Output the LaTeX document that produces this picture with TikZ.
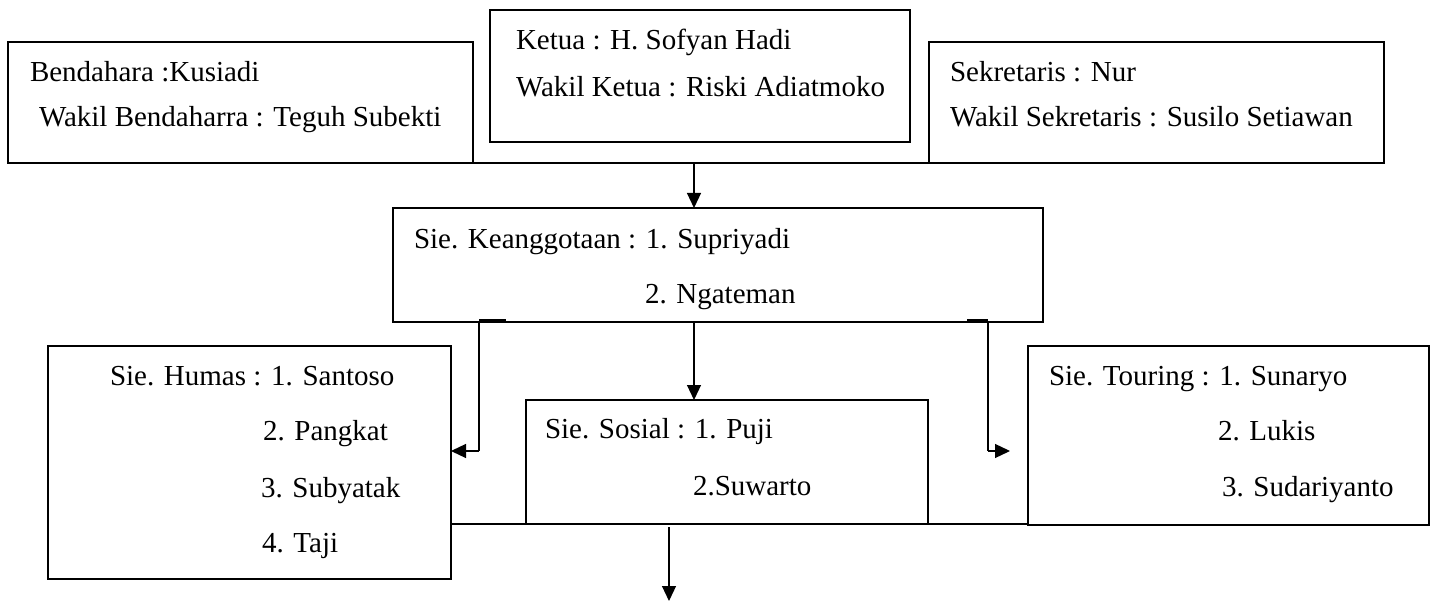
\documentclass[tikz,border=0pt]{standalone}
\usepackage{fontspec}
\setmainfont{Liberation Serif}
\usetikzlibrary{arrows.meta}
\begin{document}
\begin{tikzpicture}[x=1pt,y=-1pt,
  box/.style={draw, line width=2pt, inner sep=0pt, outer sep=0pt},
  lbl/.style={anchor=base west, inner sep=0pt, outer sep=0pt, font=\fontsize{29}{34}\selectfont},
  conn/.style={line width=1.2pt},
  thickline/.style={line width=2pt},
  arr/.style={line width=1.2pt, -{Triangle[length=15pt,width=14pt]}}]
\useasboundingbox (0,0) rectangle (1431,601);
% boxes
\node[box, minimum width=465pt, minimum height=121pt] (bend) at (240.5,102.5) {};
\node[box, minimum width=420pt, minimum height=132pt] (ketua) at (700,76) {};
\node[box, minimum width=455pt, minimum height=121pt] (sekr) at (1156.5,102.5) {};
\node[box, minimum width=650pt, minimum height=114pt] (keang) at (718,265) {};
\node[box, minimum width=403pt, minimum height=233pt] (humas) at (249.5,462.5) {};
\node[box, minimum width=402pt, minimum height=124pt] (sosial) at (727,462) {};
\node[box, minimum width=401pt, minimum height=179pt] (touring) at (1228.5,435.5) {};
% texts
\node[lbl] (t1) at (30,82) {Bendahara :Kusiadi};
\node[lbl] (t2) at (39,127) {Wakil Bendaharra : Teguh Subekti};
\node[lbl] (t3) at (516,50) {Ketua : H. Sofyan Hadi};
\node[lbl] (t4) at (516,97) {Wakil Ketua : Riski Adiatmoko};
\node[lbl] (t5) at (950,82) {Sekretaris : Nur};
\node[lbl] (t6) at (950,127) {Wakil Sekretaris : Susilo Setiawan};
\node[lbl] (t7) at (414,249) {Sie. Keanggotaan : 1. Supriyadi};
\node[lbl] (t8) at (645,304) {2. Ngateman};
\node[lbl] (t9) at (110,385) {Sie. Humas : 1. Santoso};
\node[lbl] (t10) at (263,440) {2. Pangkat};
\node[lbl] (t11) at (261,497) {3. Subyatak};
\node[lbl] (t12) at (262,552) {4. Taji};
\node[lbl] (t13) at (545,438) {Sie. Sosial : 1. Puji};
\node[lbl] (t14) at (693,495) {2.Suwarto};
\node[lbl] (t15) at (1049,385) {Sie. Touring : 1. Sunaryo};
\node[lbl] (t16) at (1218,440) {2. Lukis};
\node[lbl] (t17) at (1222,496) {3. Sudariyanto};
% connector coordinates
\coordinate (topj) at (694,163);
\coordinate (lj) at (479,322);
\coordinate (lbendpt) at (479,451);
\coordinate (mj) at (694,322);
\coordinate (rj) at (988,322);
\coordinate (rbendpt) at (988,451);
\coordinate (rtip) at (1010,451);
\coordinate (bj) at (669,527);
\coordinate (bend2) at (669,601);
% connectors
\draw[thickline] (bend.south east) -- (sekr.south west);
\draw[arr] (topj) -- (topj |- keang.north);
\draw[thickline] ([yshift=1.5pt]lj) -- ++(27,0);
\draw[thickline] ([yshift=1.5pt]rj) -- ++(-21,0);
\draw[conn] (lj) -- (lbendpt);
\draw[arr] (lbendpt) -- (lbendpt -| humas.east);
\draw[arr] (mj) -- (mj |- sosial.north);
\draw[conn] (rj) -- (rbendpt);
\draw[arr] (rbendpt) -- (rtip);
\draw[thickline] (humas.east |- sosial.south) -- (touring.west |- sosial.south);
\draw[arr] (bj) -- (bend2);
\end{tikzpicture}
\end{document}
